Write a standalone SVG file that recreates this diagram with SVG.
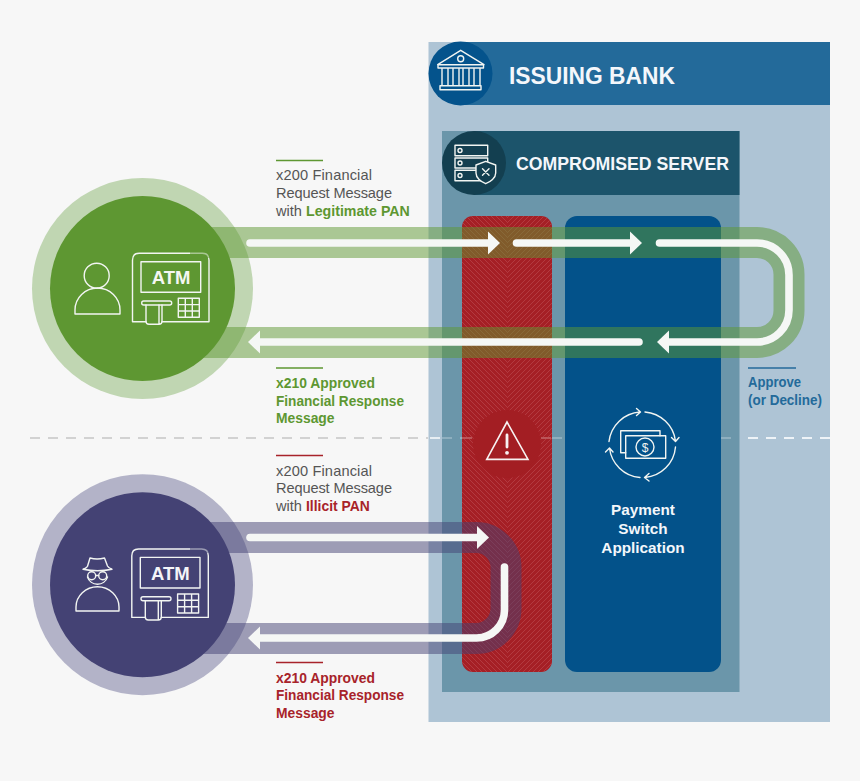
<svg xmlns="http://www.w3.org/2000/svg" width="860" height="781" viewBox="0 0 860 781">
<style>
text{font-family:"Liberation Sans",Arial,sans-serif}
.lbl{font-size:14.6px;fill:#555}
.bd{font-size:13.9px}
.g{fill:#5e9732;font-weight:700}
.r{fill:#a8232a;font-weight:700}
.b{fill:#236a9a;font-weight:700}
.w{fill:#f4f7fb;font-weight:700}
.ic{fill:none;stroke:#f2f5f2;stroke-width:1.4;stroke-linejoin:round;stroke-linecap:round}
.band{fill:none;stroke-width:31;opacity:.5}
.ar{fill:none;stroke:#f5f7f5;stroke-width:7.6;stroke-linecap:round}
.rule{stroke-width:1.6}
.dash{fill:none;stroke-width:1.8;stroke-dasharray:10 8}
</style>
<defs>
<marker id="head" markerUnits="userSpaceOnUse" markerWidth="12" markerHeight="24" refX="0" refY="12" orient="auto"><path d="M0 .5L12 12L0 23.5Z" fill="#f5f7f5"/></marker>
<pattern id="hatchL" patternUnits="userSpaceOnUse" width="5" height="5"><path d="M-1 1L1 -1M0 5L5 0M4 6L6 4" stroke="#b64146" stroke-width=".8"/></pattern>
<pattern id="hatchR" patternUnits="userSpaceOnUse" width="5" height="5"><path d="M-1 4L1 6M0 0L5 5M4 -1L6 1" stroke="#b64146" stroke-width=".8"/></pattern>
<clipPath id="redClip"><rect x="462" y="216" width="90" height="456" rx="11"/></clipPath>
<g id="atm" class="ic">
<path d="M146 321.7H132.5V260q0-6.7 6.7-6.7H202.3q6.7 0 6.7 6.7V321.7H162"/>
<rect x="141" y="261.7" width="59.7" height="30.6"/>
<rect x="141.7" y="301" width="30" height="4" rx="2"/>
<path d="M146 305V321.3q0 3 3 3H159q3 0 3-3V305M159 305V324"/>
<path d="M178.3 298.3H199.3V317.3H178.3ZM185.3 298.3V317.3M192.3 298.3V317.3M178.3 304.6H199.3M178.3 311H199.3"/>
</g>
</defs>
<rect width="860" height="781" fill="#f7f7f7"/>
<g id="divider">
<path class="dash" d="M30 438H428" stroke="#d2d2d2"/>
</g>
<g id="issuing-bank">
<rect x="428.5" y="42" width="401.5" height="680" fill="#aec4d5"/>
<path class="dash" d="M430 438H442" stroke="#eef3f7"/>
<path class="dash" d="M830 438H742" stroke="#eef3f7"/>
<rect x="460" y="42" width="370" height="63" fill="#236a9a"/>
<circle cx="460.5" cy="73.500" r="32" fill="#04538c"/>
<path class="ic" d="M460.7 50.3L437.7 64.7H484ZM438 64.7V68H483.5V64.7M442 69V85.7M448 69V85.7M453 69V85.7M459 69V85.7M463 69V85.7M469 69V85.7M474 69V85.7M480 69V85.7M440 85.7H481V89.7H440Z"/>
<circle class="ic" cx="460.7" cy="58.7" r="3"/>
<text x="509" y="84" class="w" font-size="24" textLength="166" lengthAdjust="spacingAndGlyphs">ISSUING BANK</text>
</g>
<g id="compromised-server">
<rect x="442" y="131" width="297.5" height="561" fill="#6b96aa"/>
<path class="dash" d="M442 438H462M552 438H565M721 438H739" stroke="#8eafbf"/>
<rect x="474" y="131" width="265.5" height="64" fill="#1c546b"/>
<circle cx="474" cy="163" r="32" fill="#133f50"/>
<g class="ic">
<rect x="455" y="145.3" width="32.7" height="10.4"/>
<rect x="455" y="158" width="32.7" height="10"/>
<rect x="455" y="170.3" width="32.7" height="10.4"/>
<circle cx="460" cy="150.500" r="2"/><circle cx="460" cy="163" r="2"/><circle cx="460" cy="175.500" r="2"/>
<path fill="#133f50" d="M485.7 161.3L476 165V173C476 178 481 182 485.7 183.7C490.500 182 495.7 178 495.7 173V165Z"/>
<path d="M482.5 168.8L489 175.3M489 168.8L482.5 175.3"/>
</g>
<text x="516" y="170" class="w" font-size="19" textLength="213" lengthAdjust="spacingAndGlyphs">COMPROMISED SERVER</text>
</g>
<g id="compromised-column">
<rect x="462" y="216" width="90" height="456" rx="11" fill="#a51f25"/>
<g clip-path="url(#redClip)">
<rect x="462" y="216" width="45" height="456" fill="url(#hatchR)"/>
<rect x="507" y="216" width="45" height="456" fill="url(#hatchL)"/>
</g>
<path class="dash" d="M462 438H473M541 438H552" stroke="#bb5458"/>
<circle cx="507" cy="444" r="34" fill="#a31e23"/>
<path d="M507 422L486.7 459.4H528Z" fill="none" stroke="#f7f2f2" stroke-width="1.6" stroke-linejoin="miter"/>
<path d="M507 435V447" stroke="#f7f2f2" stroke-width="2.8" stroke-linecap="round"/>
<circle cx="507" cy="452.8" r="1.9" fill="#f7f2f2"/>
</g>
<g id="payment-switch">
<rect x="565" y="216" width="156" height="456" rx="12" fill="#03528a"/>
<g class="ic" stroke-width="1.3">
<path d="M609 441.5A33.5 33.5 0 0 1 640 412M636.5 408.5L640.5 412L636.5 415.5"/>
<path d="M645 412A33.5 33.5 0 0 1 675.5 441M671.5 437.5L675.5 441.5L679 437.5"/>
<path d="M675.5 447A33.5 33.5 0 0 1 645 477.5M649 473.5L644.5 477.5L649 481"/>
<path d="M640 477.5A33.5 33.5 0 0 1 609.5 448M605.5 452L609.5 448L613 452"/>
<path d="M625.7 452.7H620.7V430.7H660V435.7"/>
<rect x="625.7" y="435.7" width="40" height="22.6"/>
<circle cx="645" cy="447" r="9"/>
</g>
<text x="645" y="451.5" text-anchor="middle" font-size="12" fill="#f2f5f2">$</text>
<text x="643" y="515" text-anchor="middle" class="w" font-size="15.3">Payment</text>
<text x="643" y="534" text-anchor="middle" class="w" font-size="15.3">Switch</text>
<text x="643" y="553" text-anchor="middle" class="w" font-size="15.3">Application</text>
</g>
<g id="atm-legitimate">
<circle cx="142.5" cy="288.5" r="110.5" fill="#c0d6b2"/>
<circle cx="142.5" cy="288.5" r="92.5" fill="#5e9732"/>
<circle class="ic" cx="96.7" cy="275.7" r="12.5"/>
<path class="ic" d="M75 314V310a22.5 22 0 0 1 45 0V314Z"/>
<use href="#atm"/>
<text x="171" y="284" text-anchor="middle" font-size="18.5" font-weight="700" fill="#f4f7f2">ATM</text>
</g>
<g id="atm-illicit">
<circle cx="142.5" cy="584.7" r="110.5" fill="#b3b3c8"/>
<circle cx="142.5" cy="584.7" r="92.5" fill="#444274"/>
<g class="ic">
<path d="M76 611V607a21.5 20.3 0 0 1 43 0V611Z"/>
<path d="M87.5 577a10.5 10.5 0 0 0 20 0"/>
<path d="M83 569.3q14.5 3 29 0M83 569.3q3 -1 4.5 -3L90 558q7 2 14.5 0l3 8q1 2 4.5 3.3"/>
<circle cx="91.7" cy="575.7" r="4"/><circle cx="102.7" cy="575.7" r="4"/>
<path d="M95.7 575.5h3"/>
</g>
<use href="#atm" transform="translate(-.7 295.7)"/>
<text x="170.3" y="579.7" text-anchor="middle" font-size="18.5" font-weight="700" fill="#f4f5f8">ATM</text>
</g>
<g id="connectors">
<path class="band" stroke="#5e9732" d="M190 242.5H757A32 32 0 0 1 789 274.5V310.5A32 32 0 0 1 757 342.5H190"/>
<path class="band" stroke="#444274" d="M190 537.5H476A30 30 0 0 1 506 567.5V608.5A30 30 0 0 1 476 638.5H190"/>
<path class="ar" d="M250 243H488" marker-end="url(#head)"/>
<path class="ar" d="M516.5 243H630" marker-end="url(#head)"/>
<path class="ar" d="M659.5 243H757A32 32 0 0 1 789 275V310A32 32 0 0 1 757 342H669" marker-end="url(#head)"/>
<path class="ar" d="M639 342H260" marker-end="url(#head)"/>
<path class="ar" d="M250 537.5H477" marker-end="url(#head)"/>
<path class="ar" d="M504.5 567V610A28 28 0 0 1 476.5 638H260" marker-end="url(#head)"/>
</g>
<g id="labels">
<path class="rule" d="M276 160.5H323" stroke="#5e9732"/>
<text x="276" y="180" class="lbl" textLength="96">x200 Financial</text>
<text x="276" y="198" class="lbl" textLength="116">Request Message</text>
<text x="276" y="215.5" class="lbl">with <tspan class="g" font-size="14.2" style="font-size:14.2px">Legitimate PAN</tspan></text>
<path class="rule" d="M276 368H323" stroke="#5e9732"/>
<text x="276" y="388" class="lbl g bd" textLength="99" lengthAdjust="spacingAndGlyphs">x210 Approved</text>
<text x="276" y="405.5" class="lbl g bd" textLength="128" lengthAdjust="spacingAndGlyphs">Financial Response</text>
<text x="276" y="423" class="lbl g bd" textLength="58.5" lengthAdjust="spacingAndGlyphs">Message</text>
<path class="rule" d="M276 455.5H323" stroke="#a8232a"/>
<text x="276" y="475.5" class="lbl" textLength="96">x200 Financial</text>
<text x="276" y="493" class="lbl" textLength="116">Request Message</text>
<text x="276" y="511" class="lbl">with <tspan class="r bd">Illicit PAN</tspan></text>
<path class="rule" d="M276 662.5H323" stroke="#a8232a"/>
<text x="276" y="682.5" class="lbl r bd" textLength="99" lengthAdjust="spacingAndGlyphs">x210 Approved</text>
<text x="276" y="700" class="lbl r bd" textLength="128" lengthAdjust="spacingAndGlyphs">Financial Response</text>
<text x="276" y="718" class="lbl r bd" textLength="58.5" lengthAdjust="spacingAndGlyphs">Message</text>
<path class="rule" d="M748 368H796" stroke="#236a9a"/>
<text x="748" y="387" class="lbl b bd" textLength="53" lengthAdjust="spacingAndGlyphs">Approve</text>
<text x="748" y="405" class="lbl b bd" textLength="74" lengthAdjust="spacingAndGlyphs">(or Decline)</text>
</g>
</svg>
